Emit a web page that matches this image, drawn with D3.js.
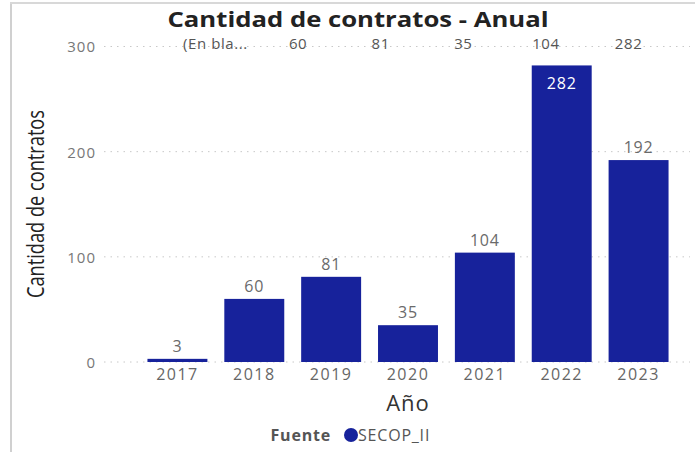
<!DOCTYPE html>
<html><head><meta charset="utf-8">
<script src="https://cdn.jsdelivr.net/npm/d3@7"></script>
<style>body{margin:0;background:#fff;} svg{display:block;font-family:"Open Sans","Noto Sans",sans-serif;}</style>
</head><body><svg id="c" width="695" height="452"></svg>
<script>
const years = ["2017","2018","2019","2020","2021","2022","2023"];
const counts = [3, 60, 81, 35, 104, 282, 192];
const topLabels = ["(En bla...", "60", "81", "35", "104", "282"];
const yTicks = [0, 100, 200, 300];

const svg = d3.select("#c");
const W = 695, H = 452;
// frame
svg.append("line").attr("x1",11).attr("x2",11).attr("y1",3).attr("y2",H).attr("stroke","#d0d0d0").attr("stroke-width",2);
svg.append("line").attr("x1",10).attr("x2",W).attr("y1",3).attr("y2",3).attr("stroke","#d8d8d8").attr("stroke-width",2);

const x = d3.scaleBand().domain(years).range([139, 677]).paddingInner(0.22).paddingOuter(0.11);
const y = d3.scaleLinear().domain([0, 300]).range([362, 46.5]);

// gridlines
svg.append("g").selectAll("line").data(yTicks).join("line")
  .attr("x1",104).attr("x2",690).attr("y1",d=>y(d)).attr("y2",d=>y(d))
  .attr("stroke","#c8c8c8").attr("stroke-width",1).attr("stroke-dasharray","1.5,5");

// y axis
const yAxis = svg.append("g").attr("transform","translate(96,0)")
  .call(d3.axisLeft(y).tickValues(yTicks).tickSize(0).tickPadding(0));
yAxis.select(".domain").remove();
yAxis.selectAll("text").attr("fill","#777").attr("font-size",15).attr("letter-spacing","1px")
  .attr("font-family","Open Sans, sans-serif").attr("dy","0.36em");

// bars
svg.append("g").selectAll("rect").data(counts).join("rect")
  .attr("x",(d,i)=>x(years[i])).attr("width",x.bandwidth())
  .attr("y",d=>y(d)).attr("height",d=>y(0)-y(d)).attr("fill","#17229b");

// value labels
svg.append("g").selectAll("text").data(counts).join("text")
  .attr("x",(d,i)=>x(years[i])+x.bandwidth()/2)
  .attr("y",d=> d>250 ? y(d)+24 : y(d)-7)
  .attr("text-anchor","middle").attr("font-size",16).attr("letter-spacing","0.8px")
  .attr("fill",d=> d>250 ? "#ffffff" : "#6a6a6a")
  .text(d=>d);

// x axis
const xAxis = svg.append("g").attr("transform",`translate(0,${y(0)+4})`)
  .call(d3.axisBottom(x).tickSize(0).tickPadding(0));
xAxis.select(".domain").remove();
xAxis.selectAll("text").attr("fill","#666").attr("font-size",16).attr("letter-spacing","1.5px")
  .attr("font-family","Open Sans, sans-serif").attr("dy","0.85em");

// top row of labels (overflow row)
const tx = d3.scalePoint().domain(topLabels.map((d,i)=>i)).range([x(years[0])+x.bandwidth()/2+38, x(years[6])+20]);
svg.append("g").selectAll("text").data(topLabels).join("text")
  .attr("x",(d,i)=>tx(i)).attr("y",49)
  .attr("text-anchor","middle").attr("font-size",15).attr("letter-spacing","0.6px").attr("fill","#555")
  .text(d=>d);

// title
svg.append("text").attr("x",358).attr("y",27).attr("text-anchor","middle")
  .attr("font-size",21).attr("font-weight","bold").attr("fill","#222")
  .attr("textLength",381).attr("lengthAdjust","spacingAndGlyphs")
  .text("Cantidad de contratos - Anual");

// y title
svg.append("text").attr("transform","translate(44,204) rotate(-90)").attr("text-anchor","middle")
  .attr("font-size",23).attr("fill","#222")
  .attr("textLength",188).attr("lengthAdjust","spacingAndGlyphs")
  .text("Cantidad de contratos");

// x title
svg.append("text").attr("x",408).attr("y",411).attr("text-anchor","middle")
  .attr("font-size",22).attr("letter-spacing","1px").attr("fill","#333").text("Año");

// legend
svg.append("text").attr("x",331).attr("y",441).attr("text-anchor","end")
  .attr("font-size",16).attr("letter-spacing","0.8px").attr("font-weight","bold").attr("fill","#555").text("Fuente");
svg.append("circle").attr("cx",351).attr("cy",435).attr("r",7).attr("fill","#17229b");
svg.append("text").attr("x",358).attr("y",441).attr("font-size",16).attr("letter-spacing","0.8px").attr("fill","#555").text("SECOP_II");
</script></body></html>
